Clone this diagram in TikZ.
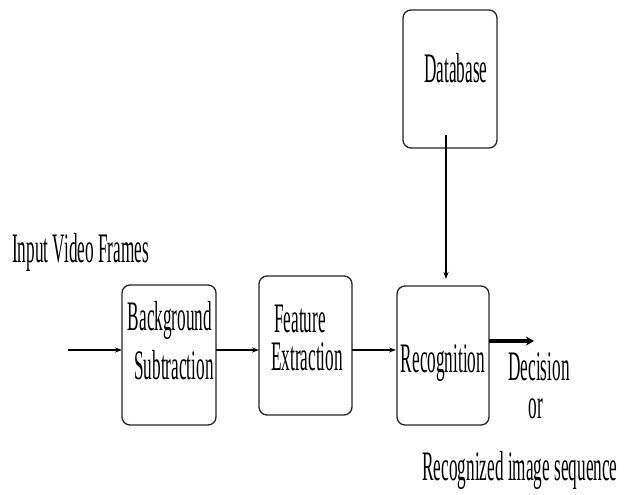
\documentclass[tikz,border=0pt]{standalone}
\usepackage{fontspec}
\usepackage{graphicx}
\setmainfont{Liberation Serif}
\usetikzlibrary{arrows.meta}
\newcommand{\nt}[1]{\scalebox{0.41}[1]{#1}}
\tikzset{
  blockbox/.style={draw=black!85, line width=1.3pt, rounded corners=8pt, minimum width=#1, inner sep=0pt, outer sep=0pt, anchor=north west},
  lbl/.style={font=\fontsize{42}{45}\selectfont, inner sep=0pt, anchor=base},
  arr/.style={line width=1.4pt, -{Stealth[length=7pt,width=5pt]}},
  bigarr/.style={line width=4pt, -{Stealth[length=8pt,width=9pt]}}
}
\begin{document}
\begin{tikzpicture}[x=1pt,y=-1pt]
\useasboundingbox (0,0) rectangle (624,495);
% boxes
\node[blockbox=94pt, minimum height=138pt] (db) at (403,10) {};
\node[blockbox=94pt, minimum height=140pt] (bs) at (122,285) {};
\node[blockbox=93pt, minimum height=139pt] (fe) at (259,276) {};
\node[blockbox=92pt, minimum height=139pt] (rec) at (397,286) {};
% texts
\node[lbl] (tdb) at (456,83) {\nt{Database}};
\node[lbl, anchor=base west] (tin) at (12,262) {\nt{Input Video Frames}};
\node[lbl] (tbs1) at (170,330) {\nt{Background}};
\node[lbl] (tbs2) at (174,379) {\nt{Subtraction}};
\node[lbl] (tfe1) at (300,332) {\nt{Feature}};
\node[lbl] (tfe2) at (307,370) {\nt{Extraction}};
\node[lbl] (trec) at (443,372) {\nt{Recognition}};
\node[lbl, text depth=0pt] (tdec) at (539,380) {\nt{Decision}};
\node[lbl, text height=19pt] (tor) at (536,418) {\nt{or}};
\node[lbl] (tseq) at (520,480) {\nt{Recognized image sequence}};
% connectors
\coordinate (inp) at (68,350);
\coordinate (dbo) at (446,135);
\coordinate (dbi) at (446,279);
\coordinate (out) at (534,341);
\draw[arr] (inp) -- (inp -| bs.west);
\draw[arr] (bs.east |- inp) -- (fe.west |- inp);
\draw[arr] (fe.east |- inp) -- ([xshift=-1pt]rec.west |- inp);
\draw[arr, line width=1.2pt] (dbo) -- (dbi);
\draw[bigarr] (rec.east |- out) -- (out);
\end{tikzpicture}
\end{document}
